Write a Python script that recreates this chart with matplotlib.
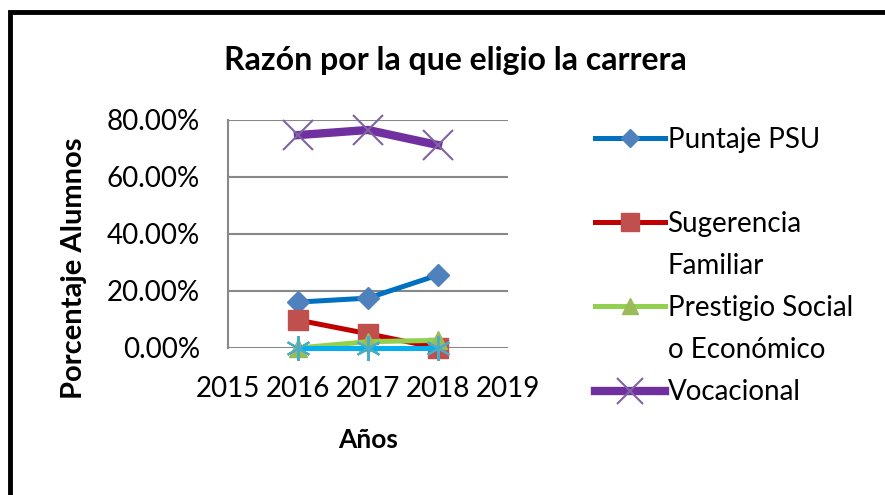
import matplotlib.pyplot as plt
from matplotlib.lines import Line2D
from matplotlib.patches import Rectangle
from matplotlib.ticker import FuncFormatter

plt.rcParams['font.family'] = ['Lato', 'DejaVu Sans']

# Data
years = [2016, 2017, 2018]
puntaje_psu = [0.161, 0.175, 0.256]
sugerencia_familiar = [0.098, 0.050, 0.0]
prestigio_social = [0.0, 0.022, 0.027]
vocacional = [0.747, 0.765, 0.712]
otros = [0.0, 0.0, 0.0]

year_ticks = [2015, 2016, 2017, 2018, 2019]
y_ticks = [0.0, 0.2, 0.4, 0.6, 0.8]

fig = plt.figure(figsize=(8.85, 4.95), dpi=100)
ax = fig.add_axes([0.2576, 0.297, 0.3164, 0.4606])

# Series
l_psu, = ax.plot(years, puntaje_psu, color='#0070C0', lw=3.6, marker='D',
                 ms=11, mfc='#4F81BD', mec='#4F81BD', zorder=3, clip_on=False)
l_sug, = ax.plot(years, sugerencia_familiar, color='#C00000', lw=3.6, marker='s',
                 ms=15, mfc='#C0504D', mec='#C0504D', zorder=3, clip_on=False)
l_pre, = ax.plot(years, prestigio_social, color='#92D050', lw=3.6, marker='^',
                 ms=13, mfc='#9BBB59', mec='#9BBB59', zorder=3, clip_on=False)
l_voc, = ax.plot(years, vocacional, color='#7030A0', lw=6, marker='x',
                 ms=22, mec='#8064A2', mew=1.5, zorder=3, clip_on=False)
ax.plot(years, otros, color='#00B0F0', lw=3.6, marker=(6, 2, 0),
        ms=18, mec='#4BACC6', mew=1.5, zorder=4, clip_on=False)

ax.set_xlim(2015, 2019)
ax.set_ylim(0, 0.8)
ax.set_xticks(year_ticks)
ax.set_yticks(y_ticks)
ax.yaxis.set_major_formatter(FuncFormatter(lambda v, p: f'{v * 100:.2f}%'))
ax.tick_params(axis='both', labelsize=20, length=0)
ax.tick_params(axis='x', pad=20)
ax.tick_params(axis='y', pad=20)

ax.grid(axis='y', color='#888888', lw=1.5)
ax.set_axisbelow(True)
for side in ['top', 'right', 'bottom']:
    ax.spines[side].set_visible(False)
ax.spines['left'].set_color('#888888')
ax.spines['left'].set_linewidth(1.5)

ax.set_xlabel('Años', fontsize=19, fontweight='bold', labelpad=19)
ax.set_ylabel('Porcentaje Alumnos', fontsize=21, fontweight='bold')
ax.yaxis.set_label_coords(-0.505, 0.35)

fig.text(0.514, 0.878, 'Razón por la que eligio la carrera', ha='center',
         va='center', fontsize=23, fontweight='bold')

# Legend: continuation lines get empty handles, like the Excel legend
blank = Line2D([], [], alpha=0)
handles = [l_psu, blank, l_sug, blank, l_pre, blank, l_voc]
labels = ['Puntaje PSU', ' ', 'Sugerencia', 'Familiar',
          'Prestigio Social', 'o Económico', 'Vocacional']
fig.legend(handles, labels, loc='upper left', bbox_to_anchor=(0.657, 0.772),
           frameon=False, fontsize=20, handlelength=2.5, handletextpad=0.1,
           labelspacing=0.58, borderpad=0, markerscale=0.85)

# Outer black frame (cut off at right/bottom like the reference)
fig.patches.append(Rectangle((0.011, -0.1), 1.1, 1.076, transform=fig.transFigure,
                             fill=False, ec='black', lw=3.5))

fig.savefig('out.png', dpi=100)
